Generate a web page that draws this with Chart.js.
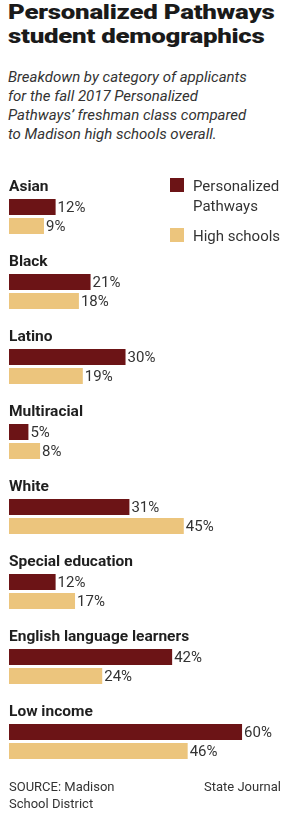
<!DOCTYPE html>
<html>
<head>
<meta charset="utf-8">
<script src="https://cdn.jsdelivr.net/npm/chart.js@4"></script>
<style>
  html, body { margin: 0; padding: 0; background: #fff; }
  #wrap { position: relative; width: 291px; height: 814px; overflow: hidden; color: #2b2b2b; }
  .title { position: absolute; left: 8px; top: 0px; font-family: Roboto, sans-serif; font-weight: 900;
           font-size: 21px; line-height: 24px; color: #1a1a1a; letter-spacing: -0.2px;
           transform: scaleX(1.23); transform-origin: 0 0; white-space: nowrap; }
  .sub { position: absolute; left: 8px; top: 68px; font-family: Roboto, sans-serif; font-style: italic;
         font-size: 15px; line-height: 19px; color: #333; white-space: nowrap; }
  .legend { position: absolute; left: 170px; top: 176px; font-family: Roboto, sans-serif; font-size: 15px;
            line-height: 20px; color: #333; }
  .legend .item { position: relative; padding-left: 23px; }
  .legend .sw { position: absolute; left: 0; top: 2px; width: 14px; height: 14px; }
  .foot { position: absolute; top: 778px; font-family: Roboto, sans-serif; font-size: 13px; line-height: 17px; color: #333; }
  #chartBox { position: absolute; left: 0; top: 179px; width: 291px; height: 600px; }
</style>
</head>
<body>
<div id="wrap">
  <div class="title">Personalized Pathways<br>student demographics</div>
  <div class="sub">Breakdown by category of applicants<br>for the fall 2017 Personalized<br>Pathways’ freshman class compared<br>to Madison high schools overall.</div>
  <div id="chartBox"><canvas id="my-graph"></canvas></div>
  <div class="legend">
    <div class="item"><span class="sw" style="background:#6c1416"></span>Personalized<br>Pathways</div>
    <div class="item" style="margin-top:10px"><span class="sw" style="background:#ecc57d"></span>High schools</div>
  </div>
  <div class="foot" style="left:9px">SOURCE: Madison<br>School District</div>
  <div class="foot" style="right:10px">State Journal</div>
</div>
<script>
const categories = ["Asian", "Black", "Latino", "Multiracial", "White", "Special education", "English language learners", "Low income"];
const pathways = [12, 21, 30, 5, 31, 12, 42, 60];
const highSchools = [9, 18, 19, 8, 45, 17, 24, 46];

const ctx = document.getElementById("my-graph");

// category names above each bar pair, percentages after each bar
const labelPlugin = {
  id: "labels",
  afterDatasetsDraw(chart) {
    const c = chart.ctx;
    c.save();
    const pp = chart.getDatasetMeta(0).data;
    c.fillStyle = "#1f1f1f";
    c.font = "bold 15.5px Roboto";
    c.textBaseline = "alphabetic";
    c.textAlign = "left";
    pp.forEach((bar, i) => {
      c.fillText(categories[i], chart.chartArea.left, bar.y - 16);
    });
    c.font = "15px Roboto";
    c.fillStyle = "#333";
    c.textBaseline = "middle";
    chart.data.datasets.forEach((ds, d) => {
      chart.getDatasetMeta(d).data.forEach((bar, i) => {
        c.fillText(ds.data[i] + "%", bar.x + 2, bar.y + 1);
      });
    });
    c.restore();
  },
};

const chart = new Chart(ctx, {
  type: "bar",
  data: {
    labels: categories,
    datasets: [
      { label: "Personalized Pathways", data: pathways, backgroundColor: "#6c1416" },
      { label: "High schools", data: highSchools, backgroundColor: "#ecc57d" },
    ],
  },
  options: {
    indexAxis: "y",
    responsive: true,
    maintainAspectRatio: false,
    animation: false,
    categoryPercentage: 38 / 75,
    barPercentage: 16 / 19,
    layout: { padding: { left: 9, right: 0, top: 0, bottom: 0 } },
    scales: {
      x: { display: false, min: 0, max: 72.6 },
      y: { display: false },
    },
    plugins: {
      legend: { display: false },
      tooltip: { enabled: false },
    },
  },
  plugins: [labelPlugin],
});
</script>
</body>
</html>
